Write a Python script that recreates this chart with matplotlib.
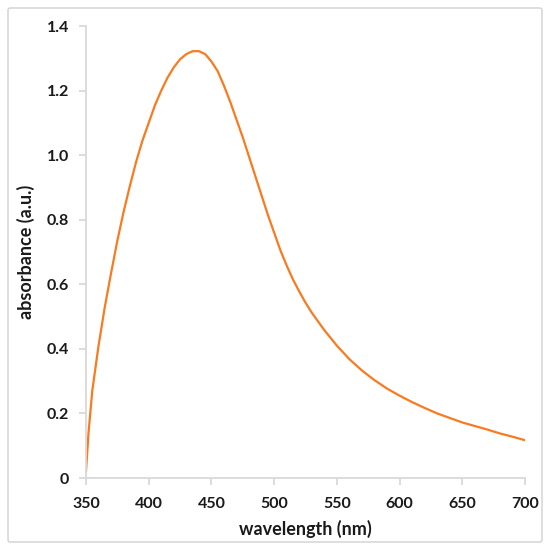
import matplotlib
matplotlib.use("Agg")
import matplotlib.pyplot as plt
from matplotlib.patches import FancyBboxPatch
from matplotlib.ticker import FuncFormatter

wavelength = [350, 352, 355, 360, 365, 370, 375, 380, 385, 390, 395, 400, 405, 410,
              415, 420, 425, 430, 435, 440, 445, 450, 455, 460, 465, 470, 475, 480,
              485, 490, 495, 500, 505, 510, 515, 520, 525, 530, 540, 550, 560, 570,
              580, 590, 600, 610, 620, 630, 640, 650, 660, 670, 680, 690, 700]
absorbance = [0.02, 0.14, 0.27, 0.41, 0.53, 0.635, 0.735, 0.825, 0.905, 0.98, 1.045,
              1.10, 1.155, 1.20, 1.24, 1.272, 1.297, 1.313, 1.322, 1.322, 1.313, 1.29,
              1.26, 1.215, 1.165, 1.11, 1.055, 0.995, 0.935, 0.875, 0.815, 0.76, 0.705,
              0.658, 0.615, 0.578, 0.543, 0.512, 0.458, 0.41, 0.368, 0.333, 0.303,
              0.277, 0.255, 0.235, 0.217, 0.2, 0.186, 0.172, 0.161, 0.15, 0.138,
              0.128, 0.117]
xticks = [350, 400, 450, 500, 550, 600, 650, 700]
yticks = [0, 0.2, 0.4, 0.6, 0.8, 1.0, 1.2, 1.4]

plt.rcParams['font.family'] = ['Lato', 'DejaVu Sans']

fig = plt.figure(figsize=(5.5, 5.5), dpi=100)
border = FancyBboxPatch((8/550, 8/550), 534/550, 534/550,
                        boxstyle="round,pad=0,rounding_size=0.004",
                        transform=fig.transFigure, fill=False,
                        edgecolor='#d0d0d0', linewidth=1.0)
fig.patches.append(border)

ax = fig.add_axes([86/550, 72/550, 439/550, 452/550])
ax.plot(wavelength, absorbance, color='#f97a1f', linewidth=1.6)
ax.set_xlim(350, 700)
ax.set_ylim(0, 1.4)
ax.set_xticks(xticks)
ax.set_yticks(yticks)
ax.yaxis.set_major_formatter(FuncFormatter(lambda v, p: '0' if v == 0 else f'{v:.1f}'))

for s in ['top', 'right']:
    ax.spines[s].set_visible(False)
for s in ['left', 'bottom']:
    ax.spines[s].set_color('#d9d9d9')
    ax.spines[s].set_linewidth(1.3)

ax.tick_params(axis='both', colors='#d9d9d9', length=5, width=1.3,
               labelcolor='#1a1a1a', labelsize=11.5)
ax.tick_params(axis='y', pad=7)
ax.tick_params(axis='x', pad=9)
for lab in ax.get_xticklabels() + ax.get_yticklabels():
    lab.set_fontweight('bold')

ax.set_xlabel('wavelength (nm)', fontsize=13, fontweight='bold', color='#1a1a1a')
ax.set_ylabel('absorbance (a.u.)', fontsize=13, fontweight='bold', color='#1a1a1a')
ax.xaxis.set_label_coords(0.5, -51/452, transform=ax.transAxes)
ax.yaxis.set_label_coords(-60/439, 0.5, transform=ax.transAxes)
ax.xaxis.label.set_va('center')
ax.yaxis.label.set_va('center')

fig.savefig('out.png', dpi=100)
